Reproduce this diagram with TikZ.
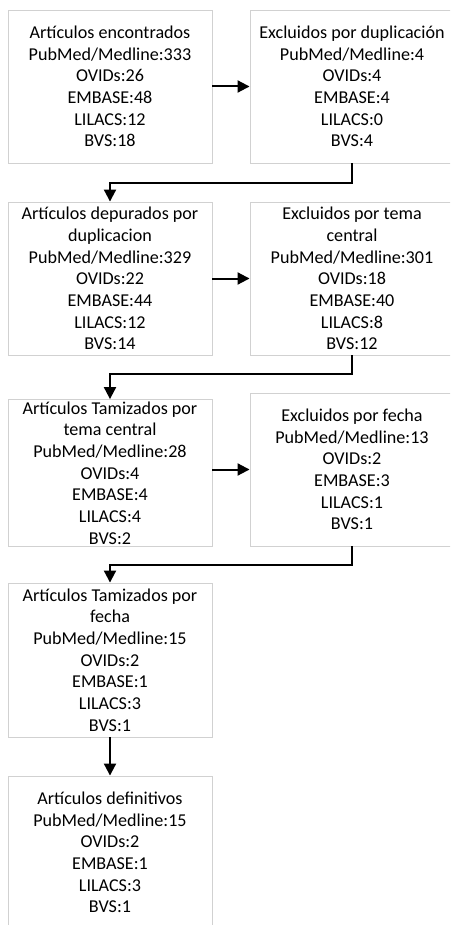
\documentclass[tikz,border=0pt]{standalone}
\usepackage{fontspec}
\setmainfont{Carlito}
\usetikzlibrary{arrows.meta}
\tikzset{
  caja/.style={draw=black!18, line width=0.9pt, align=center, minimum width=204pt,
    minimum height=153pt, inner sep=2pt, font=\fontsize{18.1}{21.7}\selectfont},
  flecha/.style={line width=2pt, -{Triangle[length=12pt,width=12pt]}}
}
\begin{document}
\begin{tikzpicture}[x=1pt,y=-1pt]
    \useasboundingbox (0,0) rectangle (450,925);
    \clip (0,0) rectangle (450,925);

    % Cajas
    \node[caja] (enc) at (110,86.5) {Artículos encontrados\\PubMed/Medline:333\\OVIDs:26\\EMBASE:48\\LILACS:12\\BVS:18};
    \node[caja] (exdup) at (352,86.5) {Excluidos por duplicación\\PubMed/Medline:4\\OVIDs:4\\EMBASE:4\\LILACS:0\\BVS:4};
    \node[caja] (dep) at (110,278.5) {Artículos depurados por\\duplicacion\\PubMed/Medline:329\\OVIDs:22\\EMBASE:44\\LILACS:12\\BVS:14};
    \node[caja] (extema) at (352,278.5) {Excluidos por tema\\central\\PubMed/Medline:301\\OVIDs:18\\EMBASE:40\\LILACS:8\\BVS:12};
    \node[caja, minimum height=146pt] (tamtema) at (110,473) {Artículos Tamizados por\\tema central\\PubMed/Medline:28\\OVIDs:4\\EMBASE:4\\LILACS:4\\BVS:2};
    \node[caja] (exfecha) at (352,469.5) {Excluidos por fecha\\PubMed/Medline:13\\OVIDs:2\\EMBASE:3\\LILACS:1\\BVS:1};
    \node[caja, minimum height=154pt] (tamfecha) at (110,660) {Artículos Tamizados por\\fecha\\PubMed/Medline:15\\OVIDs:2\\EMBASE:1\\LILACS:3\\BVS:1};
    \node[caja] (def) at (110,852.5) {Artículos definitivos\\PubMed/Medline:15\\OVIDs:2\\EMBASE:1\\LILACS:3\\BVS:1};

    % Flechas horizontales
    \draw[flecha] (enc.east) -- (exdup.west);
    \draw[flecha] (dep.east) -- (extema.west);
    \draw[flecha] (tamtema.east |- exfecha.west) -- (exfecha.west);

    % Flechas en codo
    \draw[flecha] (exdup.south) -- ++(0,20) -| (dep.north);
    \draw[flecha] (extema.south) -- ++(0,19) -| (tamtema.north);
    \draw[flecha] (exfecha.south) -- ++(0,19) -| (tamfecha.north);
    \draw[flecha] (tamfecha.south) -- (def.north);
\end{tikzpicture}
\end{document}
